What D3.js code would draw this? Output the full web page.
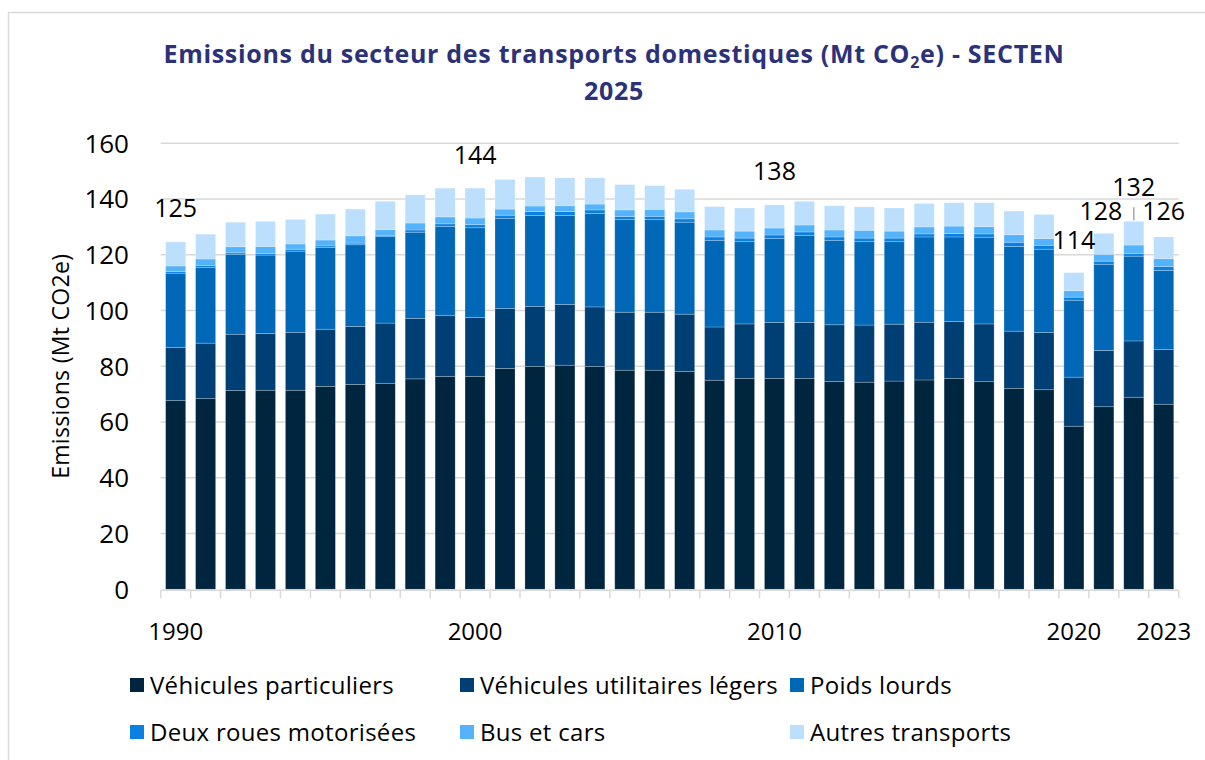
<!DOCTYPE html>
<html lang="fr">
<head>
<meta charset="UTF-8" />
<title>Emissions transports SECTEN 2025</title>
<script src="https://cdn.jsdelivr.net/npm/d3@7"></script>
<style>
  body { margin: 0; background: #fff; }
  svg text { font-family: "Open Sans", sans-serif; }
</style>
</head>
<body>
<svg width="1205" height="760"></svg>
<script>
// donnees (Mt CO2e)
var years = d3.range(1990, 2024);
var series = ["Véhicules particuliers", "Véhicules utilitaires légers", "Poids lourds",
              "Deux roues motorisées", "Bus et cars", "Autres transports"];
var colors = ["#00263f", "#003f73", "#0068b7", "#0a80e2", "#55b3fb", "#bbdffc"];

var vp = [67.7, 68.4, 71.3, 71.4, 71.4, 72.8, 73.5, 73.9, 75.5, 76.4, 76.4, 79.2, 79.9, 80.4, 79.9, 78.6, 78.6,
          78.2, 75.0, 75.6, 75.6, 75.6, 74.6, 74.3, 74.7, 75.1, 75.6, 74.5, 72.1, 71.6, 58.5, 65.5, 68.9, 66.4];
var vul = [19.1, 19.9, 20.2, 20.4, 20.8, 20.5, 20.8, 21.6, 21.7, 21.9, 21.1, 21.5, 21.6, 21.8, 21.4, 20.8, 20.8,
           20.5, 19.1, 19.6, 20.1, 20.1, 20.3, 20.5, 20.4, 20.7, 20.5, 20.7, 20.5, 20.5, 17.6, 20.2, 20.2, 19.6];
var pl = [26.6, 27.2, 28.7, 28.1, 29.1, 29.3, 29.3, 31.0, 30.9, 31.9, 32.2, 32.4, 32.6, 31.9, 33.5, 33.2, 33.2,
          33.0, 31.1, 29.5, 30.1, 31.2, 30.3, 29.9, 29.6, 30.6, 30.3, 31.1, 30.4, 29.9, 27.6, 30.9, 30.4, 28.4];
var deuxRoues = [0.6, 0.7, 0.5, 0.6, 0.7, 0.6, 0.6, 0.5, 0.8, 0.9, 1.1, 1.1, 1.4, 1.4, 1.3, 1.1, 1.2,
                 1.2, 1.2, 1.3, 1.3, 1.3, 1.2, 1.3, 1.3, 1.1, 1.2, 1.2, 1.5, 1.4, 1.1, 1.1, 0.9, 1.4];
var bus = [2.0, 2.3, 2.2, 2.5, 1.9, 2.1, 2.6, 2.0, 2.5, 2.5, 2.4, 2.2, 2.0, 2.1, 2.1, 2.4, 2.5,
           2.5, 2.5, 2.5, 2.5, 2.5, 2.5, 2.8, 2.5, 2.5, 2.7, 2.6, 2.7, 2.4, 2.3, 2.5, 3.1, 2.8];
var autres = [8.6, 8.9, 8.8, 9.0, 8.8, 9.3, 9.6, 10.2, 10.1, 10.3, 10.7, 10.6, 10.4, 10.0, 9.4, 9.1, 8.5,
              8.1, 8.4, 8.3, 8.3, 8.5, 8.7, 8.4, 8.3, 8.4, 8.4, 8.6, 8.5, 8.7, 6.5, 7.5, 8.5, 7.8];

var yTicks = [0, 20, 40, 60, 80, 100, 120, 140, 160];
var xLabels = [1990, 2000, 2010, 2020, 2023];
var totalLabels = [125, 144, 138, 114, 128, 132, 126];
var totalLabelYears = [1990, 2000, 2010, 2020, 2021, 2022, 2023];
// decalage des etiquettes (placees a la main dans l'original)
var labelDy = [-34, -33, -34, -33, -22, -34, -26];
var labelDx = [0, 0, 0, 0, -3, 0, 0];

var rows = years.map(function(yr, i) {
  var r = { year: yr };
  [vp, vul, pl, deuxRoues, bus, autres].forEach(function(arr, k) { r[series[k]] = arr[i]; });
  return r;
});

var svg = d3.select("svg");
var plotLeft = 160.7, plotRight = 1178.7, plotTop = 143.3, plotBottom = 589.3;

// cadre gris
svg.append("rect").attr("x", 8.5).attr("y", 12.5).attr("width", 1210).attr("height", 760)
  .attr("fill", "none").attr("stroke", "#d9d9d9").attr("stroke-width", 1.5);

var x = d3.scaleBand().domain(years).range([plotLeft, plotRight]).paddingInner(0.33).paddingOuter(0.165);
var y = d3.scaleLinear().domain([0, 160]).range([plotBottom, plotTop]);

// grille
svg.append("g").selectAll("line").data(yTicks.filter(function(d) { return d > 0; })).enter()
  .append("line")
  .attr("x1", plotLeft).attr("x2", plotRight)
  .attr("y1", function(d) { return y(d); }).attr("y2", function(d) { return y(d); })
  .attr("stroke", "#d9d9d9").attr("stroke-width", 1.5);

// axe y
svg.append("g").selectAll("text").data(yTicks).enter().append("text")
  .attr("x", 129).attr("y", function(d) { return y(d); }).attr("dy", "0.36em")
  .attr("text-anchor", "end").attr("font-size", 26).attr("fill", "#000")
  .text(function(d) { return d; });

svg.append("text")
  .attr("transform", "translate(69," + ((plotTop + plotBottom) / 2) + ") rotate(-90)")
  .attr("text-anchor", "middle").attr("font-size", 23).attr("letter-spacing", 0.3).attr("fill", "#000")
  .text("Emissions (Mt CO2e)");

// barres empilees
var stack = d3.stack().keys(series)(rows);
svg.append("g").selectAll("g").data(stack).enter().append("g")
  .attr("fill", function(d, i) { return colors[i]; })
  .selectAll("rect").data(function(d) { return d; }).enter().append("rect")
  .attr("x", function(d) { return x(d.data.year); })
  .attr("width", x.bandwidth())
  .attr("y", function(d) { return y(d[1]); })
  .attr("height", function(d) { return y(d[0]) - y(d[1]); })
  .attr("stroke", "rgba(255,255,255,0.3)").attr("stroke-width", 0.75);

// axe x
svg.append("line").attr("x1", plotLeft).attr("x2", plotRight).attr("y1", plotBottom + 1).attr("y2", plotBottom + 1)
  .attr("stroke", "#d9d9d9").attr("stroke-width", 1.5);
var step = x.step();
var bounds = years.map(function(yr) { return x(yr) - (step - x.bandwidth()) / 2; }).concat([plotRight]);
svg.append("g").selectAll("line").data(bounds).enter().append("line")
  .attr("x1", function(d) { return d; }).attr("x2", function(d) { return d; })
  .attr("y1", plotBottom + 1).attr("y2", plotBottom + 9)
  .attr("stroke", "#d9d9d9").attr("stroke-width", 1.5);

svg.append("g").selectAll("text").data(xLabels).enter().append("text")
  .attr("x", function(d) { return x(d) + x.bandwidth() / 2; })
  .attr("y", 640).attr("text-anchor", "middle").attr("font-size", 24).attr("fill", "#000")
  .text(function(d) { return d; });

// etiquettes des totaux
var totals = {};
rows.forEach(function(r, i) { totals[r.year] = vp[i] + vul[i] + pl[i] + deuxRoues[i] + bus[i] + autres[i]; });
svg.append("g").selectAll("text").data(totalLabels).enter().append("text")
  .attr("x", function(d, i) { return x(totalLabelYears[i]) + x.bandwidth() / 2 + labelDx[i]; })
  .attr("y", function(d, i) { return y(totals[totalLabelYears[i]]) + labelDy[i]; })
  .attr("dy", "0.36em").attr("text-anchor", "middle").attr("font-size", 25).attr("fill", "#000")
  .text(function(d) { return d; });

// trait de rappel pour 2022
svg.append("line")
  .attr("x1", x(2022) + x.bandwidth() / 2).attr("x2", x(2022) + x.bandwidth() / 2)
  .attr("y1", y(totals[2022]) - 14).attr("y2", y(totals[2022]) - 1)
  .attr("stroke", "#a6a6a6").attr("stroke-width", 1.5);

// titre
var title = svg.append("text").attr("x", 614).attr("y", 63).attr("text-anchor", "middle")
  .attr("font-size", 25).attr("letter-spacing", 0.7).attr("font-weight", "bold").attr("fill", "#2c3278");
title.append("tspan").text("Emissions du secteur des transports domestiques (Mt CO");
title.append("tspan").attr("font-size", 16).attr("dy", 5).text("2");
title.append("tspan").attr("dy", -5).text("e) - SECTEN");
svg.append("text").attr("x", 614).attr("y", 100).attr("text-anchor", "middle")
  .attr("font-size", 25).attr("letter-spacing", 0.7).attr("font-weight", "bold").attr("fill", "#2c3278").text("2025");

// legende
var legX = [130, 460, 790];
var legY = [685, 732];
var leg = svg.append("g").selectAll("g").data(series).enter().append("g")
  .attr("transform", function(d, i) { return "translate(" + legX[i % 3] + "," + legY[Math.floor(i / 3)] + ")"; });
leg.append("rect").attr("x", 0).attr("y", -7).attr("width", 14).attr("height", 14)
  .attr("fill", function(d, i) { return colors[i]; });
leg.append("text").attr("x", 20).attr("y", 0).attr("dy", "0.36em")
  .attr("font-size", 24).attr("letter-spacing", 0.3).attr("fill", "#000").text(function(d) { return d; });
</script>
</body>
</html>
